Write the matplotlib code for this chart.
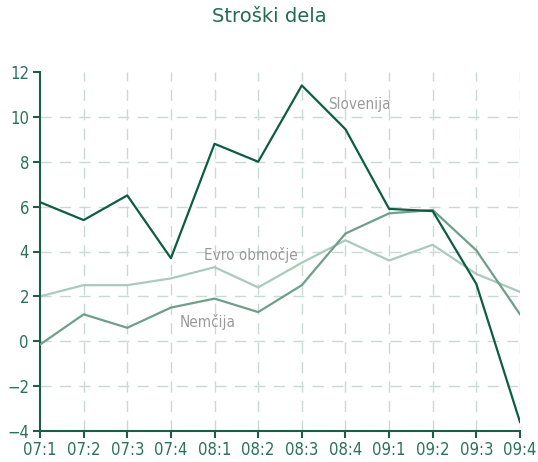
import matplotlib
matplotlib.use("Agg")
import matplotlib.pyplot as plt
from matplotlib import font_manager

categories = ["07:1", "07:2", "07:3", "07:4", "08:1", "08:2", "08:3", "08:4",
              "09:1", "09:2", "09:3", "09:4"]
slovenija = [6.2, 5.4, 6.5, 3.7, 8.8, 8.0, 11.4, 9.45, 5.9, 5.8, 2.55, -3.6]
nemcija = [-0.15, 1.2, 0.6, 1.5, 1.9, 1.3, 2.5, 4.8, 5.7, 5.85, 4.05, 1.2]
evro = [2.0, 2.5, 2.5, 2.8, 3.3, 2.4, 3.5, 4.5, 3.6, 4.3, 3.0, 2.2]
yticks = [-4, -2, 0, 2, 4, 6, 8, 10, 12]

cond = [f for f in font_manager.fontManager.ttflist if "Condensed" in f.fname and "DejaVuSans" in f.fname and "Bold" not in f.fname and "Oblique" not in f.fname]
if cond:
    narrow_fp = font_manager.FontProperties(fname=cond[0].fname)
else:
    narrow_fp = font_manager.FontProperties(family="DejaVu Sans")

GREEN_DARK = "#0f5c45"
GREEN_MID = "#6e9f8b"
GREEN_LIGHT = "#a9cabd"
AXIS = "#1a5e47"
TICKTXT = "#2c7258"
GRID = "#c8dbd3"
LABEL = "#9a9a9a"

fig = plt.figure(figsize=(5.38, 4.62), dpi=100)
ax = fig.add_axes([40/538, 31/462, 480/538, 359/462])
x = list(range(len(categories)))

for v in yticks:
    if v not in (-4, 12):
        ax.axhline(v, color=GRID, lw=1, dashes=(8, 6), zorder=0)
for i in x[1:]:
    ax.axvline(i, color=GRID, lw=1, dashes=(8, 6), zorder=0)

ax.plot(x, evro, color=GREEN_LIGHT, lw=1.6, zorder=2)
ax.plot(x, nemcija, color=GREEN_MID, lw=1.6, zorder=3)
ax.plot(x, slovenija, color=GREEN_DARK, lw=1.6, zorder=4)

def lab_fp(size):
    fp = narrow_fp.copy()
    fp.set_size(size)
    return fp

ax.text(7.31, 10.55, "Slovenija", fontproperties=lab_fp(11), color=LABEL, ha="center", va="center")
ax.text(4.83, 3.86, "Evro območje", fontproperties=lab_fp(11), color=LABEL, ha="center", va="center")
ax.text(3.85, 0.87, "Nemčija", fontproperties=lab_fp(11), color=LABEL, ha="center", va="center")

ax.set_xlim(0, 11)
ax.set_ylim(-4, 12)
ax.set_xticks(x)
ax.set_xticklabels(categories)
ax.set_yticks(yticks)
for s in ("top", "right"):
    ax.spines[s].set_visible(False)
for s in ("left", "bottom"):
    ax.spines[s].set_color(AXIS)
    ax.spines[s].set_linewidth(1.5)
ax.tick_params(axis="both", colors=AXIS, length=5, width=1.5, labelcolor=TICKTXT)
for lab in ax.get_xticklabels() + ax.get_yticklabels():
    lab.set_fontproperties(lab_fp(12))
ax.tick_params(axis="y", pad=3)
ax.tick_params(axis="x", pad=2)
ax.set_facecolor("white")

fig.text(0.5, 1 - 16/462, "Stroški dela", ha="center", va="center", fontsize=14, color="#246b52", family="DejaVu Sans")

fig.savefig("out.png", dpi=100)
